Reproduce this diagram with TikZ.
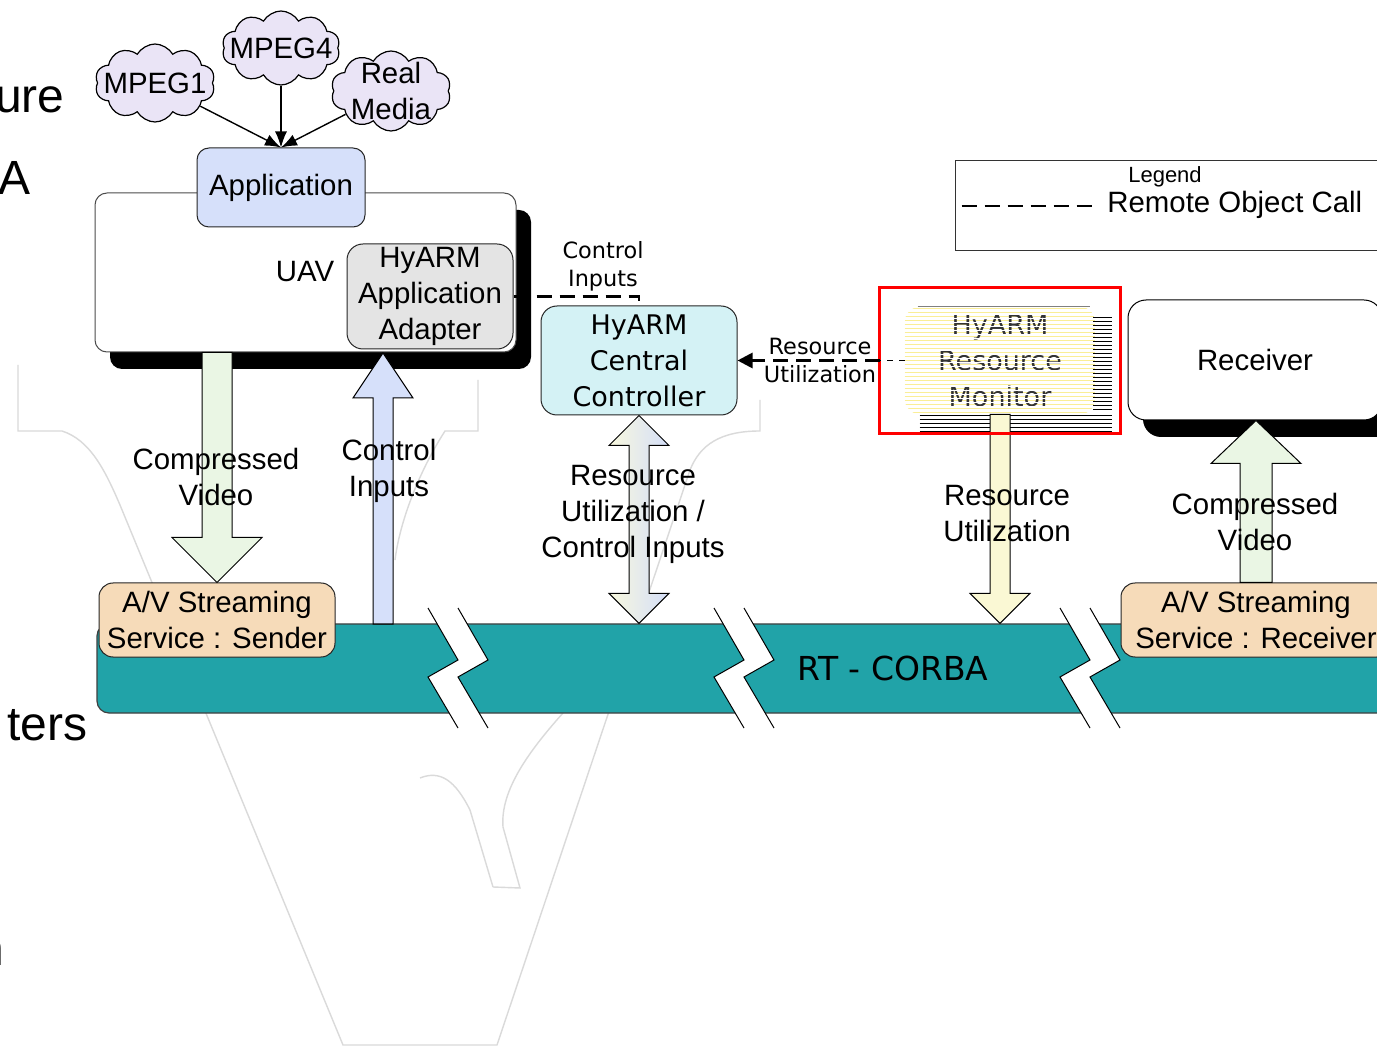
\documentclass[tikz,border=0pt]{standalone}
\usepackage{fontspec}
\setmainfont{Liberation Sans}
\newfontfamily\vsans{DejaVu Sans}
\usetikzlibrary{shapes.symbols,calc,arrows.meta,shadows}

\definecolor{appblue}{RGB}{214,224,250}
\definecolor{cloudlav}{RGB}{234,228,246}
\definecolor{adgray}{RGB}{228,228,228}
\definecolor{ctrlcyan}{RGB}{212,242,245}
\definecolor{peach}{RGB}{246,219,185}
\definecolor{busteal}{RGB}{33,163,168}
\definecolor{vidgreen}{RGB}{234,246,228}
\definecolor{resyellow}{RGB}{250,248,212}
\definecolor{monyellow}{RGB}{250,238,150}
\definecolor{dblleft}{RGB}{248,248,222}
\definecolor{dblright}{RGB}{212,222,248}
\definecolor{wmgray}{RGB}{218,218,218}

\newcommand\bigf{\fontsize{14.7pt}{18pt}\selectfont}
\newcommand\vbig{\vsans\fontsize{13.5pt}{18pt}\selectfont}
\newcommand\vsmall{\vsans\fontsize{11.2pt}{14pt}\selectfont}
\newcommand\slidef{\fontsize{24pt}{28pt}\selectfont}

% block arrow from tail #2 to tip #3; #4 half shaft width, #5 half head width, #6 head length
\newcommand\blockarrow[6]{%
  \path[#1] let \p1=#2, \p2=#3, \p3=($#3!#6!#2$) in
    (\x1-#4,\y1) -- (\x1-#4,\y3) -- (\x1-#5,\y3) -- (\x1,\y2)
    -- (\x1+#5,\y3) -- (\x1+#4,\y3) -- (\x1+#4,\y1) -- cycle;}
% block arrow with a head at both ends
\newcommand\dblockarrow[6]{%
  \path[#1] let \p1=#2, \p2=#3, \p3=($#3!#6!#2$), \p4=($#2!#6!#3$) in
    (\x1,\y1) -- (\x1+#5,\y4) -- (\x1+#4,\y4) -- (\x1+#4,\y3) -- (\x1+#5,\y3)
    -- (\x1,\y2) -- (\x1-#5,\y3) -- (\x1-#4,\y3) -- (\x1-#4,\y4) -- (\x1-#5,\y4) -- cycle;}

\begin{document}
\begin{tikzpicture}[x=0.5pt,y=-0.5pt,
  box/.style={draw=black!85, line width=0.5pt, inner sep=0pt, align=center, font=\bigf},
  cloudy/.style={cloud, cloud puffs=10, cloud puff arc=120, cloud ignores aspect,
                 draw=black, fill=cloudlav, line width=0.6pt, inner sep=0pt},
  feed/.style={-{Latex[length=8pt,width=6pt]}, line width=0.7pt},
  rocall/.style={line width=1.4pt, dash pattern=on 7.5pt off 4pt},
  lbl/.style={align=center, font=\bigf, inner sep=0pt},
  slbl/.style={align=center, font=\vsmall, inner sep=0pt},
  frag/.style={anchor=base east, inner sep=0pt, font=\slidef},
  wm/.style={draw=wmgray, line width=0.7pt},
  shadowed/.style={drop shadow={shadow xshift=7.5pt, shadow yshift=-8.5pt, fill=black, opacity=1}},
  blk/.style={draw=black, line width=0.5pt}
]
\useasboundingbox (0,0) rectangle (1377,1053);
\fill[white] (0,0) rectangle (1377,1053);

% faint crest behind the diagram
\draw[wm] (18,365) -- (18,431) -- (62,431) .. controls (90,440) and (105,470) .. (120,505)
  -- (343,1045) -- (497,1045) -- (690,470) .. controls (700,445) and (720,431) .. (760,431) -- (760,400);
\draw[wm] (478,380) -- (478,431) -- (445,431) .. controls (420,470) and (400,520) .. (395,560);
\draw[wm] (493,887) -- (520,888) -- (503,827) .. controls (500,790) and (530,750) .. (563,713);
\draw[wm] (493,887) -- (470,810) .. controls (455,780) and (440,770) .. (420,778);

% slide text cut off at the left edge
\node[frag] (frag1) at (65,113) {ure};
\node[frag] (frag2) at (31,195) {A};
\node[frag] (frag3) at (88,740) {ters};
\node[frag] (frag4) at (5,965) {n};

% RT-CORBA bus with break marks
\node[draw=black!75, line width=0.6pt, fill=busteal, rounded corners=6pt,
      minimum width=651.5pt, minimum height=44.5pt, inner sep=0pt] (bus) at (748.5,668.5) {};
\foreach \bx in {428,714,1060} {
  \fill[white] (\bx,608) -- (\bx+30,660) -- (\bx,677) -- (\bx+30,728)
    -- (\bx+60,728) -- (\bx+30,677) -- (\bx+60,660) -- (\bx+30,608) -- cycle;
  \draw[line width=0.5pt] (\bx,608) -- (\bx+30,660) -- (\bx,677) -- (\bx+30,728);
  \draw[line width=0.5pt] (\bx+30,608) -- (\bx+60,660) -- (\bx+30,677) -- (\bx+60,728);
}
\node[font=\vsans\fontsize{16.5pt}{20pt}\selectfont, inner sep=0pt] (busname) at (893,668) {RT - CORBA};

% streaming service endpoints on the bus
\node[box, fill=peach, rounded corners=7pt, minimum width=118pt, minimum height=37pt] (sender) at (217,620)
  {A/V Streaming\\Service : Sender};
\node[box, fill=peach, rounded corners=7pt, minimum width=135pt, minimum height=37pt] (recsvc) at (1256,620)
  {A/V Streaming\\Service : Receiver};

% UAV with its application and adapter
\node[box, fill=white, draw=black!70, rounded corners=6pt, shadowed,
      minimum width=210.5pt, minimum height=79.5pt] (uav) at (305.5,272.5) {};
\node[lbl] (uavname) at (305,272) {UAV};
\node[box, fill=appblue, rounded corners=6pt, minimum width=84pt, minimum height=39.5pt] (app) at (281,187.5) {Application};
\node[box, fill=adgray, rounded corners=8pt, minimum width=83pt, minimum height=52.5pt] (adapter) at (430,296.5)
  {HyARM\\Application\\Adapter};

% media formats
\node[cloudy, minimum width=60pt, minimum height=39pt,
      label={[font=\bigf, inner sep=0pt]center:MPEG1}] (mpeg1) at (155,83) {};
\node[cloudy, minimum width=59pt, minimum height=37pt,
      label={[font=\bigf, inner sep=0pt]center:MPEG4}] (mpeg4) at (281,48) {};
\node[cloudy, minimum width=60pt, minimum height=40pt,
      label={[font=\bigf, inner sep=0pt, align=center]center:Real\\Media}] (realmedia) at (391,91) {};
\draw[feed] (mpeg1) -- (app.north);
\draw[feed] (mpeg4) -- (app.north);
\draw[feed] (realmedia) -- (app.north);

% central controller
\node[box, fill=ctrlcyan, rounded corners=8pt, minimum width=98pt, minimum height=54.5pt, font=\vbig] (ctrl) at (639,360.5)
  {HyARM\\Central\\Controller};

% resource monitor (striped rendering) inside its red frame
\node[inner sep=0pt, minimum width=120pt, minimum height=72.5pt] (monbox) at (1000,360.5) {};
\node[inner sep=0pt, minimum width=95pt, minimum height=53.5pt] (monitor) at (1000,360.5) {};
\begin{scope}
  \clip[rounded corners=8pt] (monitor.north west) rectangle (monitor.south east);
  \foreach \k in {0,...,26}
    \draw[monyellow, line width=0.75pt] ($(monitor.north west)+(0,2+4*\k)$) -- ($(monitor.north east)+(0,2+4*\k)$);
\end{scope}
\node[font=\vbig, align=center, inner sep=0pt, text=black!80] (montext) at (monitor.center) {HyARM\\Resource\\Monitor};
\begin{scope}
  \clip (monitor.north west) rectangle (monitor.south east);
  \foreach \k in {0,...,26}
    \draw[white, line width=0.6pt] ($(monitor.north west)+(0,4*\k)$) -- ($(monitor.north east)+(0,4*\k)$);
\end{scope}
\draw[black!50, line width=0.5pt] ($(monitor.north west)+(13,0)$) -- ($(monitor.north east)+(-5,0)$);
\foreach \k in {0,...,23}
  \draw[line width=0.5pt] ($(monitor.north east)+(-2,11+4*\k)$) -- ($(monitor.north east)+(17,11+4*\k)$);
\foreach \k in {0,...,4}
  \draw[line width=0.5pt] ($(monitor.south west)+(15,1+4*\k)$) -- ($(monitor.south east)+(17,1+4*\k)$);

% receiver
\node[box, fill=white, draw=black, rounded corners=9pt, shadowed,
      minimum width=127pt, minimum height=60pt] (receiver) at (1255,360) {Receiver};

% block arrows between components and the bus
\coordinate (citail) at (383,624);
\coordinate (citip) at (383,353);
\blockarrow{blk, fill=vidgreen}{(sender.north |- uav.south)}{(sender.north)}{7.5pt}{22.5pt}{22.5pt}
\blockarrow{blk, fill=appblue}{(citail)}{(citip)}{5pt}{15pt}{22.5pt}
\dblockarrow{blk, left color=dblleft, right color=dblright}{(ctrl.south)}{(ctrl.south |- bus.north)}{5pt}{15pt}{15pt}
\blockarrow{blk, fill=resyellow}{(monitor.south)}{(monitor.south |- bus.north)}{5pt}{15pt}{15pt}
\blockarrow{blk, fill=vidgreen}{(recsvc.north)}{(receiver.south)}{8pt}{22.5pt}{21.5pt}

\draw[red, line width=1.5pt] (monbox.north west) rectangle (monbox.south east);

% remote object calls
\draw[rocall] (adapter.east) -| (ctrl.north);
\draw[dashed, line width=0.5pt] (monitor.west) -- (monbox.west);
\draw[rocall, -{Triangle[length=7.5pt,width=7.5pt]}] (monbox.west) -- (ctrl.east);
\node[slbl] (cilabel) at (603,266) {Control\\Inputs};
\node[slbl] (rulabel) at (820,360) {Resource\\Utilization};

% arrow labels
\node[lbl] (cvleft) at (216,477) {Compressed\\Video};
\node[lbl] (cileft) at (389,471) {Control\\Inputs};
\node[lbl] (rucenter) at (633,514) {Resource\\Utilization /\\Control Inputs};
\node[lbl] (ruright) at (1007,514) {Resource\\Utilization};
\node[lbl] (cvright) at (1255,522) {Compressed\\Video};

% legend
\node[draw=black!80, line width=0.5pt, inner sep=0pt, minimum width=217.5pt, minimum height=45pt] (legend) at (1172.5,206) {};
\node[font=\fontsize{11pt}{13pt}\selectfont, inner sep=0pt] (legendtitle) at (1165,177) {Legend};
\coordinate (legs) at ($(legend.west)+(7,0)$);
\coordinate (lege) at ($(legend.west)+(137,0)$);
\draw[rocall] (legs) -- (lege);
\node[font=\bigf, anchor=west, inner sep=0pt] (legendtext) at (1107,205) {Remote Object Call};
\end{tikzpicture}
\end{document}
